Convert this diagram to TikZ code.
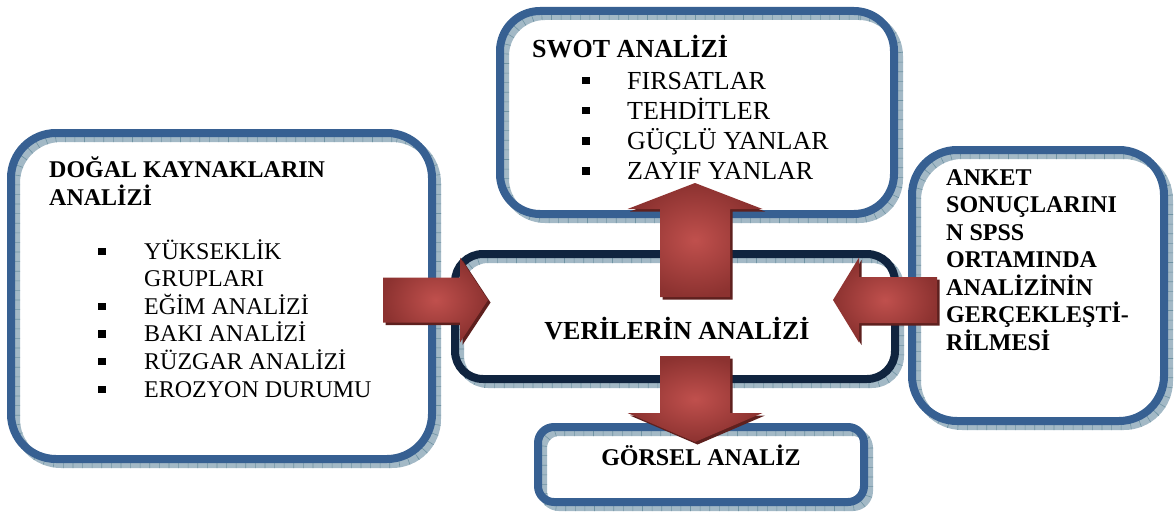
\documentclass[tikz,border=0pt]{standalone}
\usepackage{fontspec}
\setmainfont{Liberation Serif}
\usetikzlibrary{calc}
\definecolor{boxblue}{HTML}{376092}
\definecolor{boxnavy}{HTML}{10243F}
\definecolor{texbase}{HTML}{A3B9C6}
\definecolor{textick}{HTML}{6F93A3}
\definecolor{arrowlight}{HTML}{C0504D}
\definecolor{arrowdark}{HTML}{8C3230}
\definecolor{arrowshade}{HTML}{5E201E}

\tikzset{
  pics/redarrow/.style n args={4}{code={
    \path[preaction={fill=arrowshade, transform canvas={shift={(2.5pt,-2.5pt)}}},
          shade, inner color=arrowlight, outer color=arrowdark]
      (0,-#2) -- ({#1-#4},-#2) -- ({#1-#4},-#3) -- (#1,0)
      -- ({#1-#4},#3) -- ({#1-#4},#2) -- (0,#2) -- cycle;
  }}
}

\begin{document}
\begin{tikzpicture}[x=1pt, y=-1pt,
    panel/.style={draw=#1, line width=8pt, inner sep=0pt, outer sep=0pt,
      preaction={draw=texbase, line width=8pt, transform canvas={shift={(5pt,-5pt)}}},
      preaction={draw=textick, line width=8pt, dash pattern=on 0.6pt off 9pt,
        transform canvas={shift={(5pt,-5pt)}}}},
    head/.style={inner sep=0pt, font=\fontsize{24}{28}\selectfont\bfseries},
    bighead/.style={inner sep=0pt, font=\fontsize{26}{30}\selectfont\bfseries},
    item/.style={inner sep=0pt, font=\fontsize{24}{28}\selectfont},
    bigitem/.style={inner sep=0pt, font=\fontsize{26}{30}\selectfont}]
  \useasboundingbox (0,0) rectangle (1174,511);

  % boxes
  \node[panel=boxblue, rounded corners=45pt, minimum width=421pt, minimum height=326pt] (dogal) at (221.5,296) {};
  \node[panel=boxblue, rounded corners=40pt, minimum width=394pt, minimum height=203pt] (swot) at (697,112.5) {};
  \node[panel=boxblue, rounded corners=45pt, minimum width=252pt, minimum height=271pt] (anket) at (1038,285.5) {};
  \node[panel=boxnavy, rounded corners=28pt, minimum width=440pt, minimum height=125pt] (veri) at (675,316.5) {};
  \node[panel=boxblue, rounded corners=16pt, minimum width=326pt, minimum height=75pt] (gorsel) at (701,464.5) {};

  % left box
  \node[head, anchor=base west] (dogalT1) at (49,177) {DOĞAL KAYNAKLARIN};
  \node[head, anchor=base west] (dogalT2) at (49,205) {ANALİZİ};
  \foreach \t [count=\i from 0] in {YÜKSEKLİK,GRUPLARI,EĞİM ANALİZİ,BAKI ANALİZİ,RÜZGAR ANALİZİ,EROZYON DURUMU}
    \node[item, anchor=base west] (d\i) at (144,259+27.6*\i) {\t};
  \foreach \i in {0,2,3,4,5}
    \fill (98,259+27.6*\i-11.5) rectangle ++(7.5,7.5);

  % swot box
  \node[bighead, anchor=base west] (swotT) at (532,58) {SWOT ANALİZİ};
  \foreach \t [count=\i from 0] in {FIRSATLAR,TEHDİTLER,GÜÇLÜ YANLAR,ZAYIF YANLAR}
    \node[bigitem, anchor=base west] (s\i) at (627,89+30.3*\i) {\t};
  \foreach \i in {0,...,3}
    \fill (582,89+30.3*\i-12.5) rectangle ++(7.5,7.5);

  % right box
  \foreach \t [count=\i from 0] in {ANKET,SONUÇLARINI,N SPSS,ORTAMINDA,ANALİZİNİN,GERÇEKLEŞTİ-,RİLMESİ}
    \node[head, anchor=base west] (a\i) at (946,185+27.5*\i) {\t};

  \node[bighead, anchor=base] (veriT) at (677,339) {VERİLERİN ANALİZİ};
  \node[head, anchor=base] (gorselT) at (701,465) {GÖRSEL ANALİZ};

  % arrows
  \pic at ($(dogal.east)+(-49,4)$) {redarrow={105}{22.5}{42.5}{28}};
  \pic[rotate=180] at ($(anket.west)+(25,14.5)$) {redarrow={104}{23}{42.5}{26}};
  \pic[rotate=90] at ($(veri.north)+(20,43)$) {redarrow={114}{35}{67.5}{26}};
  \pic[rotate=-90] at ($(veri.south)+(20,-23)$) {redarrow={86}{35}{67.5}{29}};
\end{tikzpicture}
\end{document}
